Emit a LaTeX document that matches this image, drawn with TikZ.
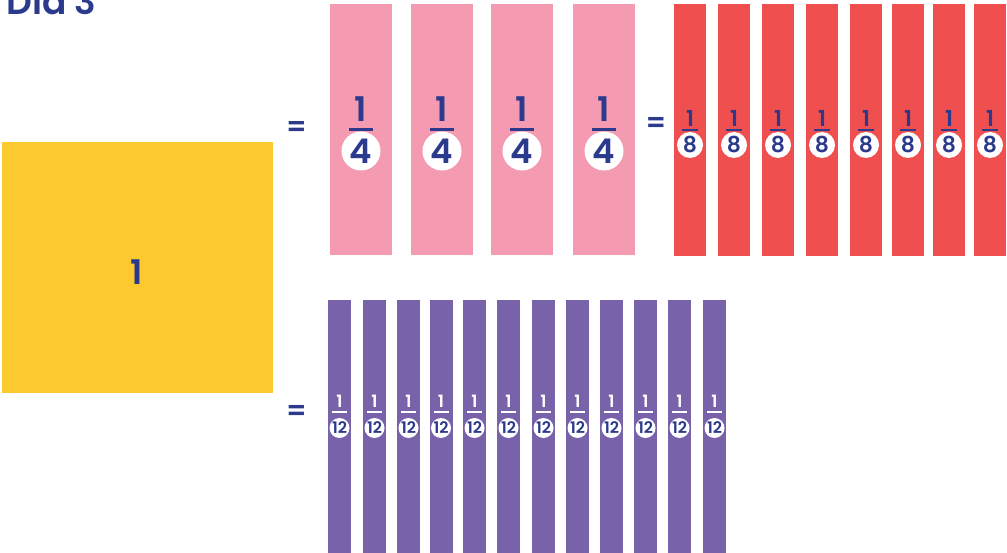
\documentclass[tikz,border=0pt]{standalone}
\usepackage{fontspec}
\setmainfont{Poppins}[BoldFont={Poppins SemiBold}]
\usetikzlibrary{calc}
\definecolor{ink}{HTML}{2B3A8C}
\definecolor{sun}{HTML}{FCCA2E}
\definecolor{rose}{HTML}{F49AB1}
\definecolor{coral}{HTML}{EF4F4F}
\definecolor{lilac}{HTML}{7862AA}
\tikzset{
  strip/.style={inner sep=0pt, outer sep=0pt, minimum height=#1},
  eqsign/.style={text=ink, font=\fontsize{28}{28}\selectfont\bfseries, inner sep=0pt},
  disc/.style={circle, fill=white, inner sep=0pt, minimum size=#1, text=ink}
}
\begin{document}
\begin{tikzpicture}[x=1pt,y=-1pt]
\useasboundingbox (0,0) rectangle (1007,553);
% title and whole
\node[anchor=base west, text=ink, font=\fontsize{36}{36}\selectfont\bfseries, inner sep=0pt] (title) at (6,15) {Dia 3};
\node[fill=sun, minimum width=271pt, minimum height=251pt, inner sep=0pt] (whole) at (137.5,267.5) {};
\node[text=ink, font=\fontsize{34}{34}\selectfont\bfseries, inner sep=0pt] (one) at ($(whole.center)+(-1,4.5)$) {1};
% equal signs
\node[eqsign] (eq1) at (296.5,129) {=};
\node[eqsign] (eq2) at (656,124.5) {=};
\node[eqsign] (eq3) at (296.5,412.5) {=};
% quarters
\foreach \x [count=\i] in {361,442,522,604}{
  \node[strip=251pt, fill=rose, minimum width=62pt] (q\i) at (\x,129.5) {};
  \node[text=ink, font=\fontsize{34}{34}\selectfont\bfseries, inner sep=0pt] (q\i n) at ($(q\i.center)+(0,-20)$) {1};
  \draw[ink, line width=3pt] ($(q\i.center)+(-12,0)$) -- ($(q\i.center)+(12,0)$);
  \node[disc=39pt, font=\fontsize{34}{34}\selectfont\bfseries] (q\i d) at ($(q\i.center)+(0,21.5)$) {4};
}
% eighths
\foreach \x [count=\i] in {690,734,778,822,866,908,949,990}{
  \node[strip=252pt, fill=coral, minimum width=32pt] (e\i) at (\x,130) {};
  \node[text=ink, font=\fontsize{22}{22}\selectfont\bfseries, inner sep=0pt] (e\i n) at ($(e\i.center)+(0,-11.5)$) {1};
  \draw[ink, line width=2.5pt] ($(e\i.center)+(-8,0)$) -- ($(e\i.center)+(8,0)$);
  \node[disc=26pt, font=\fontsize{22}{22}\selectfont\bfseries] (e\i d) at ($(e\i.center)+(0,15)$) {8};
}
% twelfths
\foreach \x [count=\i] in {339.5,374.5,408.5,441,474.5,508.5,543.5,577.5,611.5,645.5,679.5,714.5}{
  \node[strip=253pt, fill=lilac, minimum width=23pt] (t\i) at (\x,426.5) {};
  \node[text=white, font=\fontsize{17}{17}\selectfont\bfseries, inner sep=0pt] (t\i n) at ($(t\i.center)+(0,-25.5)$) {1};
  \draw[white, line width=2.5pt] ($(t\i.center)+(-7.5,-14.5)$) -- ($(t\i.center)+(7.5,-14.5)$);
  \node[disc=20pt, font=\fontsize{16}{16}\selectfont\bfseries] (t\i d) at ($(t\i.center)+(0,1.5)$) {12};
}
\end{tikzpicture}
\end{document}
